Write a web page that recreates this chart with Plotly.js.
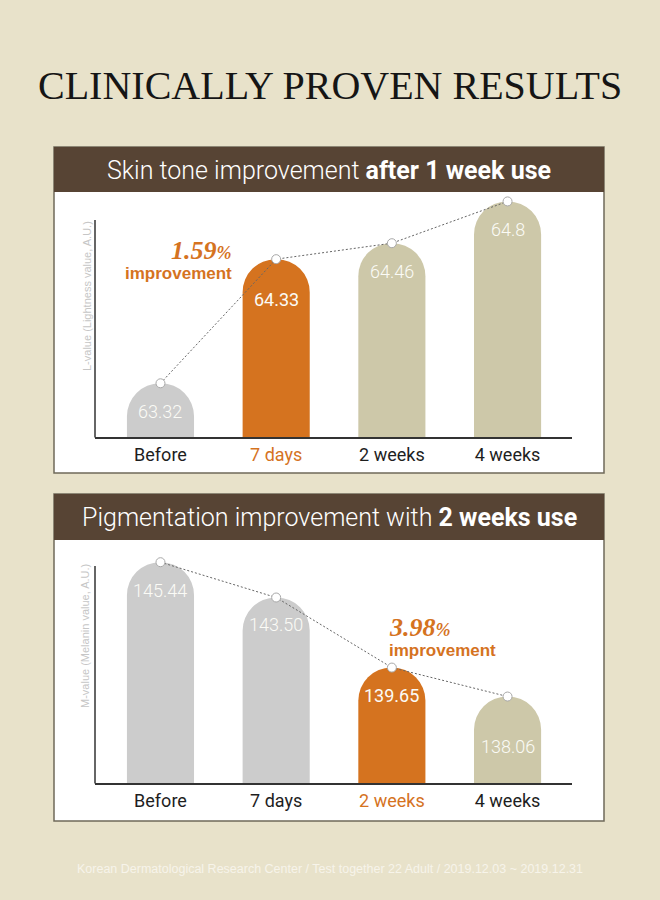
<!DOCTYPE html>
<html><head><meta charset="utf-8">
<script src="https://cdn.plot.ly/plotly-3.0.1.min.js"></script>
<style>html,body{margin:0;padding:0;background:#e8e2ca;}</style>
</head><body><div id="chart" style="width:660px;height:900px;"></div>
<script>
// ---- data ----
const categories = ['Before', '7 days', '2 weeks', '4 weeks'];
const lightnessValues = [63.32, 64.33, 64.46, 64.8];
const lightnessLabels = ['63.32', '64.33', '64.46', '64.8'];
const melaninValues = [145.44, 143.50, 139.65, 138.06];
const melaninLabels = ['145.44', '143.50', '139.65', '138.06'];
const lightnessImprovement = '1.59';
const melaninImprovement = '3.98';
const chartTitle = 'CLINICALLY PROVEN RESULTS';
const header1 = 'Skin tone improvement <b>after 1 week use</b>';
const header2 = 'Pigmentation improvement with <b>2 weeks use</b>';
const yTitle1 = 'L-value (Lightness value, A.U.)';
const yTitle2 = 'M-value (Melanin value, A.U.)';
const footnote = 'Korean Dermatological Research Center / Test together 22 Adult / 2019.12.03 ~ 2019.12.31';

// ---- styles ----
const W = 660, H = 900;
const px = x => x / W;
const py = y => (H - y) / H;
const ORANGE = '#d5731f', GRAY = '#cccccc', BEIGE = '#cdc8a9', BROWN = '#574434';
const colors1 = [GRAY, ORANGE, BEIGE, BEIGE];
const colors2 = [GRAY, GRAY, ORANGE, BEIGE];
const hl1 = 1, hl2 = 2;
const labelOffset1 = [28, 40, 28, 28];
const labelOffset2 = [28, 27, 28, 50];

function tickText(hl) {
  return categories.map((c, i) => i === hl ? `<span style="color:${ORANGE}">${c}</span>` : c);
}

const traces = [
  {type: 'bar', x: categories, y: lightnessValues, xaxis: 'x', yaxis: 'y', width: 0.58,
   marker: {color: colors1, cornerradius: '50%', line: {width: 0}}, hoverinfo: 'skip'},
  {type: 'scatter', mode: 'lines+markers', x: categories, y: lightnessValues, xaxis: 'x', yaxis: 'y',
   line: {color: '#666', width: 1, dash: '2px,2px'}, cliponaxis: false,
   marker: {size: 9, color: '#ffffff', line: {color: '#a8a8a8', width: 1}}, hoverinfo: 'skip'},
  {type: 'bar', x: categories, y: melaninValues, xaxis: 'x2', yaxis: 'y2', width: 0.58,
   marker: {color: colors2, cornerradius: '50%', line: {width: 0}}, hoverinfo: 'skip'},
  {type: 'scatter', mode: 'lines+markers', x: categories, y: melaninValues, xaxis: 'x2', yaxis: 'y2',
   line: {color: '#666', width: 1, dash: '2px,2px'}, cliponaxis: false,
   marker: {size: 9, color: '#ffffff', line: {color: '#a8a8a8', width: 1}}, hoverinfo: 'skip'}
];

const xCommon = {type: 'category', range: [-0.566, 3.557], showline: true, linecolor: '#333', linewidth: 1.5,
  ticks: '', showgrid: false, zeroline: false, fixedrange: true, ticklabelstandoff: 1,
  tickfont: {family: 'Roboto, sans-serif', size: 18, color: '#1e1e1e'}};
const yCommon = {showticklabels: false, showgrid: false, zeroline: false, showline: false, ticks: '', fixedrange: true};

const annotations = [];
function valueLabels(vals, labels, hl, offs, xr, yr) {
  vals.forEach((v, i) => annotations.push({
    xref: xr, yref: yr, x: categories[i], y: v, yshift: -offs[i], showarrow: false,
    text: labels[i], xanchor: 'center', yanchor: 'middle',
    font: {family: 'Roboto, sans-serif', size: 18, weight: i === hl ? 400 : 300, color: '#fbfbf6'}
  }));
}
valueLabels(lightnessValues, lightnessLabels, hl1, labelOffset1, 'x', 'y');
valueLabels(melaninValues, melaninLabels, hl2, labelOffset2, 'x2', 'y2');

// title
annotations.push({xref: 'paper', yref: 'paper', x: 0.5, y: py(86), showarrow: false, text: chartTitle,
  xanchor: 'center', yanchor: 'middle', font: {family: 'Liberation Serif, serif', size: 40, color: '#151515'}});
// headers
annotations.push({xref: 'paper', yref: 'paper', x: px(329), y: py(170), showarrow: false, text: header1,
  xanchor: 'center', yanchor: 'middle', font: {family: 'Roboto, sans-serif', size: 25, weight: 300, color: '#ffffff'}});
annotations.push({xref: 'paper', yref: 'paper', x: px(329), y: py(517), showarrow: false, text: header2,
  xanchor: 'center', yanchor: 'middle', font: {family: 'Roboto, sans-serif', size: 25, weight: 300, color: '#ffffff'}});
// y titles
annotations.push({xref: 'paper', yref: 'paper', x: px(87), y: py(219), showarrow: false, text: yTitle1, textangle: -90,
  xanchor: 'center', yanchor: 'top', font: {family: 'Liberation Sans, Arial, sans-serif', size: 11, color: '#c6c6c6'}});
annotations.push({xref: 'paper', yref: 'paper', x: px(85), y: py(562), showarrow: false, text: yTitle2, textangle: -90,
  xanchor: 'center', yanchor: 'top', font: {family: 'Liberation Sans, Arial, sans-serif', size: 11, color: '#c6c6c6'}});
// improvement callouts
const pctFont = {family: 'Liberation Serif, serif', size: 26, weight: 700, style: 'italic', color: ORANGE};
const impFont = {family: 'Liberation Sans, Arial, sans-serif', size: 17, weight: 700, color: ORANGE};
annotations.push({xref: 'paper', yref: 'paper', x: px(234), y: py(250), showarrow: false,
  text: lightnessImprovement + '<span style="font-size:18px">%</span>', xanchor: 'right', yanchor: 'middle', font: pctFont});
annotations.push({xref: 'paper', yref: 'paper', x: px(234), y: py(273), showarrow: false,
  text: 'improvement', xanchor: 'right', yanchor: 'middle', font: impFont});
annotations.push({xref: 'paper', yref: 'paper', x: px(387), y: py(627), showarrow: false,
  text: melaninImprovement + '<span style="font-size:18px">%</span>', xanchor: 'left', yanchor: 'middle', font: pctFont});
annotations.push({xref: 'paper', yref: 'paper', x: px(387), y: py(650), showarrow: false,
  text: 'improvement', xanchor: 'left', yanchor: 'middle', font: impFont});
// footnote
annotations.push({xref: 'paper', yref: 'paper', x: 0.5, y: py(869), showarrow: false, text: footnote,
  xanchor: 'center', yanchor: 'middle', font: {family: 'Liberation Sans, Arial, sans-serif', size: 12.5, color: '#f7f4ea'}});

const shapes = [
  {type: 'rect', xref: 'paper', yref: 'paper', x0: px(54), x1: px(604), y0: py(473), y1: py(147),
   fillcolor: '#ffffff', line: {color: '#6f6a5a', width: 1.5}, layer: 'below'},
  {type: 'rect', xref: 'paper', yref: 'paper', x0: px(54), x1: px(604), y0: py(192), y1: py(147),
   fillcolor: BROWN, line: {width: 0}, layer: 'below'},
  {type: 'rect', xref: 'paper', yref: 'paper', x0: px(54), x1: px(604), y0: py(821), y1: py(494),
   fillcolor: '#ffffff', line: {color: '#6f6a5a', width: 1.5}, layer: 'below'},
  {type: 'rect', xref: 'paper', yref: 'paper', x0: px(54), x1: px(604), y0: py(540), y1: py(494),
   fillcolor: BROWN, line: {width: 0}, layer: 'below'},
  {type: 'line', xref: 'paper', yref: 'paper', x0: px(95), x1: px(95), y0: py(220), y1: py(437.5),
   line: {color: '#333', width: 1.5}},
  {type: 'line', xref: 'paper', yref: 'paper', x0: px(95), x1: px(95), y0: py(566), y1: py(783.5),
   line: {color: '#333', width: 1.5}}
];

const layout = {
  width: W, height: H, margin: {l: 0, r: 0, t: 0, b: 0},
  paper_bgcolor: '#e8e2ca', plot_bgcolor: 'rgba(0,0,0,0)', showlegend: false,
  xaxis: Object.assign({}, xCommon, {domain: [px(95), px(572)], anchor: 'y', tickvals: categories, ticktext: tickText(hl1)}),
  yaxis: Object.assign({}, yCommon, {domain: [py(437), py(196)], anchor: 'x', range: [62.883, 64.844]}),
  xaxis2: Object.assign({}, xCommon, {domain: [px(95), px(572)], anchor: 'y2', tickvals: categories, ticktext: tickText(hl2)}),
  yaxis2: Object.assign({}, yCommon, {domain: [py(783), py(548)], anchor: 'x2', range: [133.31, 146.22]}),
  shapes: shapes, annotations: annotations, bargap: 0.4
};

Plotly.newPlot('chart', traces, layout, {staticPlot: true});
</script></body></html>
